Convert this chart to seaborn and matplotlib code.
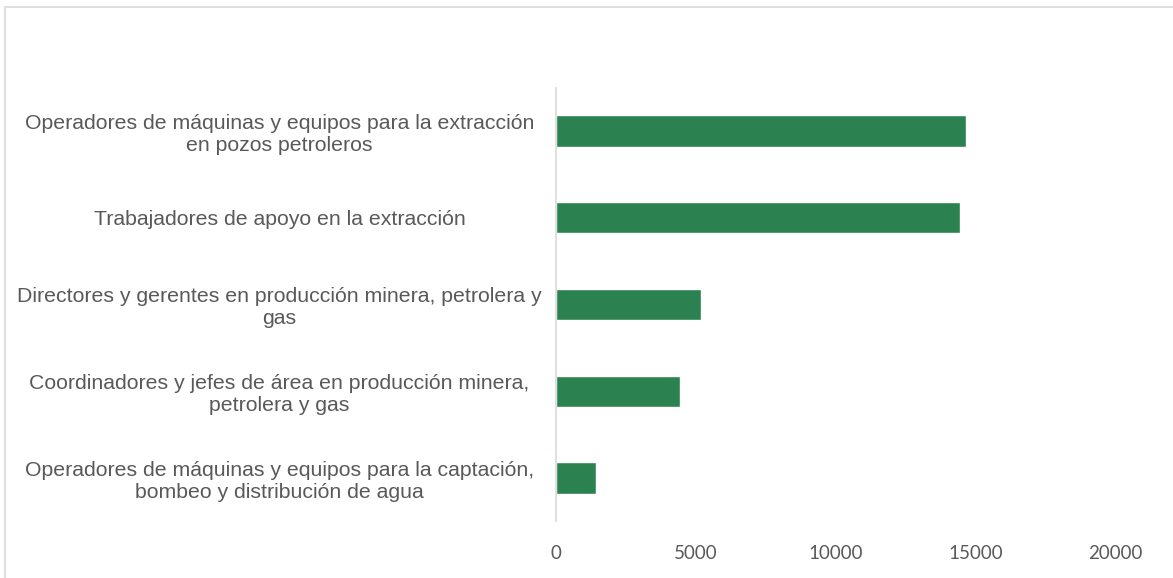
import pandas as pd
import numpy as np
import matplotlib.pyplot as plt
import seaborn as sns
from matplotlib.patches import Rectangle

sns.set_style(style="white")

ocupaciones = [
    "Operadores de máquinas y equipos para la extracción\nen pozos petroleros",
    "Trabajadores de apoyo en la extracción",
    "Directores y gerentes en producción minera, petrolera y\ngas",
    "Coordinadores y jefes de área en producción minera,\npetrolera y gas",
    "Operadores de máquinas y equipos para la captación,\nbombeo y distribución de agua",
]
personas = [14680, 14450, 5180, 4420, 1430]
ticks_x = [0, 5000, 10000, 15000, 20000]

df = pd.DataFrame({"ocupacion": ocupaciones, "personas": personas})

fig = plt.figure(figsize=(11.73, 5.78), dpi=100)
ax = fig.add_axes([0.474, 0.098, 0.4766, 0.7506])

sns.barplot(data=df, x="personas", y="ocupacion", orient="h",
            color="#2B8250", saturation=1, width=0.36, ax=ax)

ax.set_xlim(0, 20000)
ax.set_xticks(ticks_x)
ax.set_xticklabels([str(t) for t in ticks_x], family=["Lato", "DejaVu Sans"],
                   fontsize=13.5, color="#595959")
ax.set_yticklabels(ocupaciones, family=["Liberation Sans", "DejaVu Sans"],
                   fontsize=15.3, color="#595959", ha="center",
                   linespacing=1.2)
ax.tick_params(axis="y", length=0, pad=199)
ax.tick_params(axis="x", length=0, pad=17)
ax.set_xlabel("")
ax.set_ylabel("")

for s in ["top", "right", "bottom"]:
    ax.spines[s].set_visible(False)
ax.spines["left"].set_color("#D9D9D9")
ax.spines["left"].set_linewidth(1.2)

# marco del area del grafico
fig.patches.append(Rectangle((5 / 1173, -0.1), 1.2, 1 - 7 / 578 + 0.1,
                             transform=fig.transFigure, fill=False,
                             edgecolor="#D9D9D9", linewidth=1.2))

plt.savefig("out.png", dpi=100)
